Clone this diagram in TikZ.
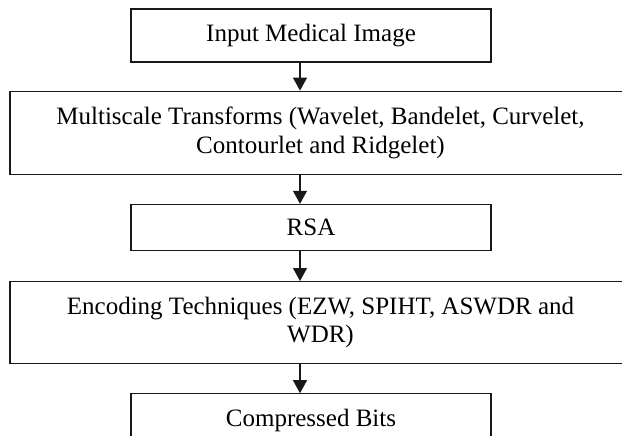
\documentclass[tikz,border=0pt]{standalone}
\usepackage{fontspec}
\setmainfont{Liberation Serif}
\usepackage{tikz}
\usetikzlibrary{arrows.meta,positioning}

\begin{document}
\begin{tikzpicture}[
  font=\fontsize{25}{28.5}\selectfont,
  bloco/.style={draw=black!90, fill=white, align=center, inner sep=0pt, line width=1.2pt, minimum width=360pt},
  largo/.style={bloco, minimum width=621pt},
  flecha/.style={-{Triangle[length=13pt, width=14pt]}, line width=1.2pt, color=black!90}]
  \fill[white] (0,0) rectangle (622pt,-436pt);
  \useasboundingbox (0,0) rectangle (622pt,-436pt);
  % etapas
  \node[bloco, minimum height=53pt] (entrada) at (311pt,-35.5pt) {Input Medical Image};
  \node[largo, minimum height=83pt, below=28pt of entrada, xshift=9.5pt] (multi) {Multiscale Transforms (Wavelet, Bandelet, Curvelet,\\Contourlet and Ridgelet)};
  \node[bloco, minimum height=46pt, below=29pt of multi, xshift=-9.5pt] (rsa) {RSA};
  \node[largo, minimum height=82pt, below=30pt of rsa, xshift=9.5pt] (codif) {Encoding Techniques (EZW, SPIHT, ASWDR and\\WDR)};
  \node[bloco, minimum height=53pt, below=29pt of codif, xshift=-9.5pt] (saida) {Compressed Bits};
  % setas
  \draw[flecha] ([xshift=-11pt]entrada.south) -- ([xshift=-11pt]entrada.south |- multi.north);
  \draw[flecha] ([xshift=-11pt]rsa.north |- multi.south) -- ([xshift=-11pt]rsa.north);
  \draw[flecha] ([xshift=-11pt]rsa.south) -- ([xshift=-11pt]rsa.south |- codif.north);
  \draw[flecha] ([xshift=-11pt]saida.north |- codif.south) -- ([xshift=-11pt]saida.north);
\end{tikzpicture}
\end{document}
